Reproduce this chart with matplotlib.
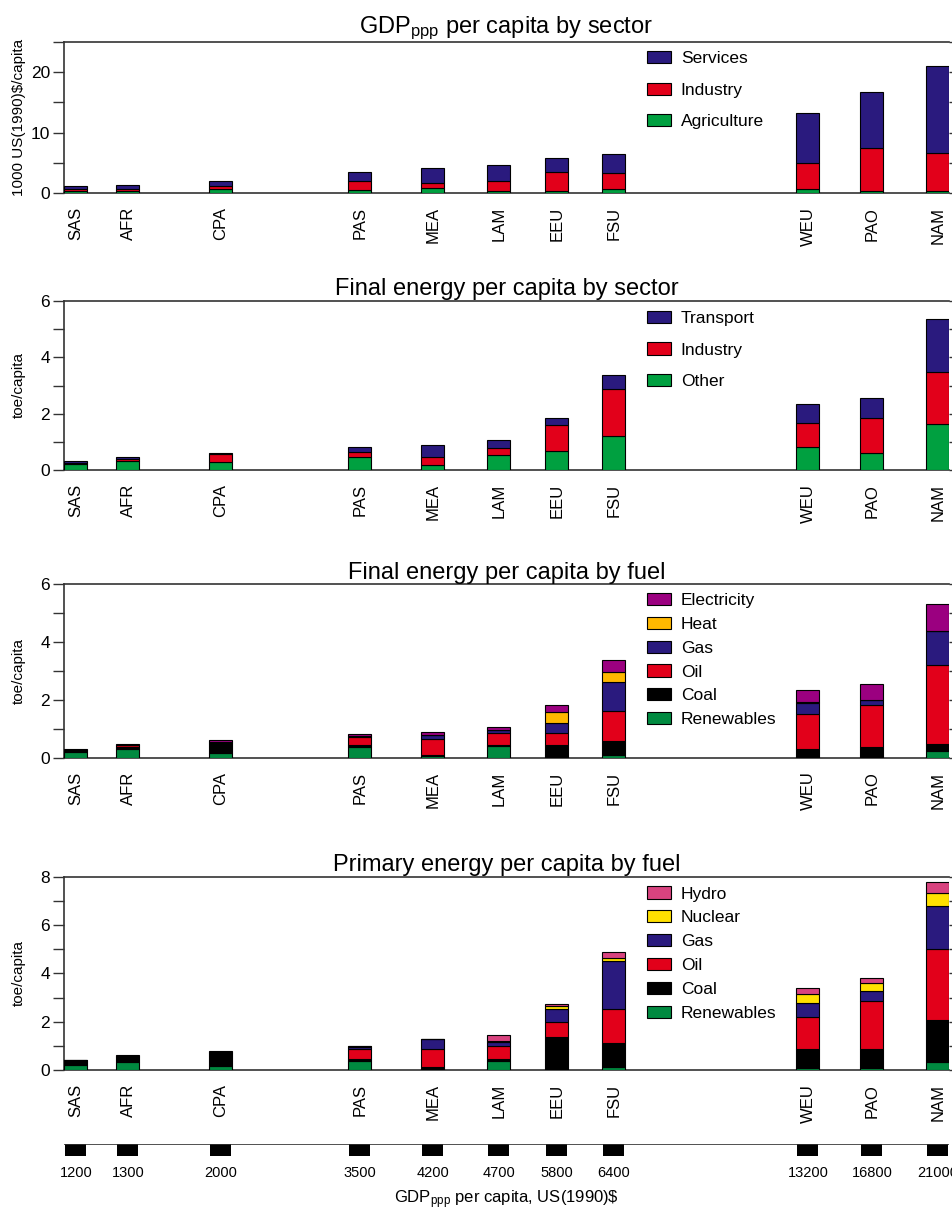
import matplotlib
matplotlib.use("Agg")
import matplotlib.pyplot as plt
from matplotlib.patches import Patch
from matplotlib.ticker import MultipleLocator

plt.rcParams['font.family'] = ['Liberation Sans', 'DejaVu Sans']
plt.rcParams['mathtext.fontset'] = 'custom'
plt.rcParams['mathtext.rm'] = 'Liberation Sans'
plt.rcParams['mathtext.it'] = 'Liberation Sans:italic'

# regions, sorted by GDP per capita
regions = ["SAS", "AFR", "CPA", "PAS", "MEA", "LAM", "EEU", "FSU", "WEU", "PAO", "NAM"]
gdp_labels = ["1200", "1300", "2000", "3500", "4200", "4700", "5800", "6400",
              "13200", "16800", "21000"]

# GDPppp per capita by sector, 1000 US(1990)$/capita
gdp_agriculture = [0.35, 0.35, 0.70, 0.55, 0.90, 0.35, 0.40, 0.65, 0.65, 0.35, 0.35]
gdp_industry = [0.30, 0.35, 0.45, 1.50, 0.80, 1.60, 3.15, 2.65, 4.35, 7.10, 6.30]
gdp_services = [0.55, 0.60, 0.85, 1.45, 2.50, 2.75, 2.25, 3.10, 8.20, 9.35, 14.35]

# final energy per capita by sector, toe/capita
fe_other = [0.21, 0.32, 0.28, 0.47, 0.17, 0.53, 0.67, 1.21, 0.83, 0.62, 1.64]
fe_industry = [0.06, 0.07, 0.29, 0.19, 0.31, 0.27, 0.92, 1.67, 0.86, 1.22, 1.83]
fe_transport = [0.05, 0.07, 0.04, 0.15, 0.42, 0.26, 0.25, 0.49, 0.64, 0.72, 1.87]

# final energy per capita by fuel, toe/capita
ff_renewables = [0.18, 0.29, 0.17, 0.37, 0.07, 0.40, 0.02, 0.08, 0.03, 0.02, 0.23]
ff_coal = [0.07, 0.08, 0.33, 0.06, 0.01, 0.03, 0.41, 0.50, 0.27, 0.35, 0.25]
ff_oil = [0.03, 0.06, 0.02, 0.30, 0.55, 0.42, 0.41, 1.05, 1.20, 1.44, 2.72]
ff_gas = [0.00, 0.00, 0.01, 0.03, 0.14, 0.10, 0.36, 0.98, 0.38, 0.19, 1.18]
ff_heat = [0.00, 0.00, 0.02, 0.00, 0.00, 0.01, 0.37, 0.37, 0.05, 0.01, 0.00]
ff_electricity = [0.03, 0.04, 0.06, 0.06, 0.11, 0.09, 0.26, 0.40, 0.40, 0.55, 0.95]

# primary energy per capita by fuel, toe/capita
pe_renewables = [0.21, 0.32, 0.17, 0.39, 0.02, 0.39, 0.03, 0.12, 0.08, 0.07, 0.33]
pe_coal = [0.13, 0.20, 0.52, 0.08, 0.09, 0.07, 1.35, 1.01, 0.78, 0.80, 1.74]
pe_oil = [0.05, 0.05, 0.03, 0.39, 0.75, 0.55, 0.62, 1.41, 1.35, 1.97, 2.95]
pe_gas = [0.01, 0.03, 0.03, 0.10, 0.44, 0.16, 0.54, 1.97, 0.55, 0.43, 1.77]
pe_nuclear = [0.00, 0.00, 0.00, 0.02, 0.00, 0.04, 0.11, 0.14, 0.37, 0.32, 0.55]
pe_hydro = [0.02, 0.02, 0.04, 0.03, 0.00, 0.22, 0.07, 0.23, 0.25, 0.20, 0.45]

# layout: bar centres along the shared horizontal axis (figure pixels)
xpos = [76, 128, 221, 360, 433, 499, 557, 614, 808, 872, 938]
XLIM = (64, 949)
BAR_W = 23

NAVY = "#2a1a7e"
RED = "#e2001a"
GREEN = "#00a040"
DKGREEN = "#008a40"
PURPLE = "#9b0080"
ORANGE = "#ffb800"
YELLOW = "#ffe000"
PINK = "#d8437f"
SPINE = "#333333"

W, H = 953, 1210


def add_axes(top, bottom):
    return fig.add_axes([XLIM[0] / W, 1 - bottom / H,
                         (XLIM[1] - XLIM[0]) / W, (bottom - top) / H])


def draw_panel(ax, title, ylabel, series, names, colors, ymax, major, legend_top,
               spacing):
    base = [0.0] * len(xpos)
    for vals, col in zip(series, colors):
        ax.bar(xpos, vals, width=BAR_W, bottom=base, color=col,
               edgecolor="black", linewidth=0.8, zorder=3)
        base = [b + v for b, v in zip(base, vals)]
    ax.set_xlim(*XLIM)
    ax.set_ylim(0, ymax)
    ax.yaxis.set_major_locator(MultipleLocator(major))
    ax.yaxis.set_minor_locator(MultipleLocator(major / 2))
    ax.tick_params(axis="y", which="both", direction="out", length=8,
                   width=1, color=SPINE, labelsize=12.5, pad=2,
                   right=True)
    ax.set_xticks(xpos)
    ax.set_xticklabels(regions, rotation=90, fontsize=12)
    ax.tick_params(axis="x", length=0, pad=10)
    ax.spines["right"].set_visible(False)
    for s in ("left", "bottom", "top"):
        ax.spines[s].set_color(SPINE)
        ax.spines[s].set_linewidth(1.2)
    ax.set_title(title, fontsize=17, pad=4)
    ax.set_ylabel(ylabel, fontsize=11)
    ax.yaxis.set_label_coords(-0.043, 0.5)
    handles = [Patch(facecolor=c, edgecolor="black", linewidth=0.8)
               for c in colors][::-1]
    ax.legend(handles, names[::-1], loc="upper left",
              bbox_to_anchor=(0.659, legend_top), frameon=False,
              fontsize=12.5, handlelength=1.38, handleheight=0.7,
              handletextpad=0.55, labelspacing=spacing, borderpad=0,
              borderaxespad=0)


fig = plt.figure(figsize=(W / 100, H / 100), dpi=100)

ax1 = add_axes(42, 193)
draw_panel(ax1, "GDP$_{\\mathrm{ppp}}$ per capita by sector",
           "1000 US(1990)$/capita",
           [gdp_agriculture, gdp_industry, gdp_services],
           ["Agriculture", "Industry", "Services"],
           [GREEN, RED, NAVY], 25, 10, 0.94, 0.94)

ax2 = add_axes(300.7, 470.3)
draw_panel(ax2, "Final energy per capita by sector", "toe/capita",
           [fe_other, fe_industry, fe_transport],
           ["Other", "Industry", "Transport"],
           [GREEN, RED, NAVY], 6, 2, 0.94, 0.94)

ax3 = add_axes(584.3, 757.7)
draw_panel(ax3, "Final energy per capita by fuel", "toe/capita",
           [ff_renewables, ff_coal, ff_oil, ff_gas, ff_heat, ff_electricity],
           ["Renewables", "Coal", "Oil", "Gas", "Heat", "Electricity"],
           [DKGREEN, "black", RED, NAVY, ORANGE, PURPLE], 6, 2, 0.95, 0.5)

ax4 = add_axes(876.7, 1070)
draw_panel(ax4, "Primary energy per capita by fuel", "toe/capita",
           [pe_renewables, pe_coal, pe_oil, pe_gas, pe_nuclear, pe_hydro],
           ["Renewables", "Coal", "Oil", "Gas", "Nuclear", "Hydro"],
           [DKGREEN, "black", RED, NAVY, YELLOW, PINK], 8, 2, 0.95, 0.5)

# GDP scale strip at the bottom
ax5 = add_axes(1144, 1156)
ax5.set_xlim(*XLIM)
ax5.set_ylim(0, 1)
ax5.bar(xpos, [1] * len(xpos), width=21, bottom=0, color="black")
ax5.axhline(1, color=SPINE, linewidth=1.2)
for s in ax5.spines.values():
    s.set_visible(False)
ax5.set_yticks([])
ax5.set_xticks(xpos)
ax5.set_xticklabels(gdp_labels, fontsize=10.5)
ax5.tick_params(axis="x", length=0, pad=7)
ax5.set_xlabel("GDP$_{\\mathrm{ppp}}$ per capita, US(1990)\\$", fontsize=12,
               labelpad=6)

fig.savefig("out.png", dpi=100)
